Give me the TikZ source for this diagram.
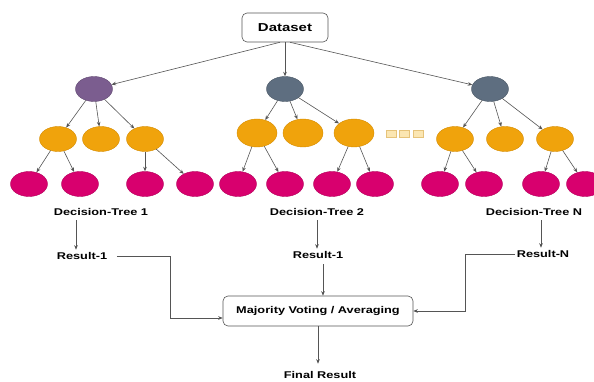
\documentclass[tikz,border=0pt]{standalone}
\usepackage{fontspec}
\usetikzlibrary{shapes.geometric,arrows.meta}
\newfontfamily\lblfont{Liberation Sans Bold}[FakeStretch=1.3]
\definecolor{rootpurple}{HTML}{7B5D8F}
\definecolor{rootslate}{HTML}{5E6E80}
\definecolor{midorange}{HTML}{F0A30C}
\definecolor{midorangeline}{HTML}{D68C00}
\definecolor{leafpink}{HTML}{D8006E}
\definecolor{leafpinkline}{HTML}{B5005C}
\definecolor{dotfill}{HTML}{FBE6B2}
\definecolor{dotline}{HTML}{E6C37A}
\definecolor{edgegray}{HTML}{555555}
\tikzset{
  oval/.style={ellipse, minimum width=37pt, minimum height=25pt, inner sep=0pt, line width=0.4pt},
  rootp/.style={oval, fill=rootpurple, draw=rootpurple!80!black},
  roots/.style={oval, fill=rootslate, draw=rootslate!80!black},
  mid/.style={oval, fill=midorange, draw=midorangeline},
  midbig/.style={mid, minimum width=40pt, minimum height=28pt},
  leaf/.style={oval, fill=leafpink, draw=leafpinkline},
  dotbox/.style={rectangle, minimum width=10pt, minimum height=7pt, inner sep=0pt, fill=dotfill, draw=dotline, line width=0.4pt},
  lbl/.style={inner sep=1.5pt, font=\lblfont\fontsize{9.8}{11}\selectfont},
  rbox/.style={rectangle, rounded corners=5pt, draw=edgegray, line width=0.6pt, fill=white, inner sep=0pt},
  arr/.style={draw=edgegray, line width=0.6pt, -{Stealth[length=4.5pt,width=3.6pt]}},
}
\begin{document}
\begin{tikzpicture}[x=1pt, y=-1pt]
\clip (0,0) rectangle (594,382);
\fill[white] (0,0) rectangle (594,382);

% top box
\node[rbox, minimum width=86pt, minimum height=29pt, lbl, font=\lblfont\fontsize{11.5}{13}\selectfont] (ds) at (285,27.5) {Dataset};

% tree roots
\node[rootp] (r1) at (94,89) {};
\node[roots] (r2) at (285,89) {};
\node[roots] (rN) at (490,89) {};

% second level
\node[mid] (a1) at (58,139) {};
\node[mid] (a2) at (101,139) {};
\node[mid] (a3) at (145,139) {};
\node[midbig] (b1) at (257,133) {};
\node[midbig] (b2) at (303,133) {};
\node[midbig] (b3) at (354,133) {};
\node[mid] (c1) at (455,139) {};
\node[mid] (c2) at (505,139) {};
\node[mid] (c3) at (555,139) {};

% ellipsis squares
\node[dotbox] (d1) at (391,133.5) {};
\node[dotbox] (d2) at (404.5,133.5) {};
\node[dotbox] (d3) at (418,133.5) {};

% leaves
\node[leaf] (a11) at (29,184) {};
\node[leaf] (a12) at (80,184) {};
\node[leaf] (a31) at (145,184) {};
\node[leaf] (a32) at (195,184) {};
\node[leaf] (b11) at (238,184) {};
\node[leaf] (b12) at (285,184) {};
\node[leaf] (b31) at (332,184) {};
\node[leaf] (b32) at (375,184) {};
\node[leaf] (c11) at (440,184) {};
\node[leaf] (c12) at (484,184) {};
\node[leaf] (c31) at (541,184) {};
\node[leaf] (c32) at (585,184) {};

% labels
\node[lbl] (dt1) at (101,212) {Decision-Tree 1};
\node[lbl] (dt2) at (317,212) {Decision-Tree 2};
\node[lbl] (dtN) at (534,212) {Decision-Tree N};
\node[lbl] (res1) at (82,256) {Result-1};
\node[lbl] (res2) at (318,255) {Result-1};
\node[lbl] (resN) at (543,254) {Result-N};
\node[rbox, minimum width=190pt, minimum height=30pt, lbl] (maj) at (318,311) {Majority Voting / Averaging};
\node[lbl] (fin) at (320,375) {Final Result};

% connector guides
\coordinate (k1) at (76,0);
\coordinate (k2) at (317,0);
\coordinate (k3) at (323,0);
\coordinate (kN) at (541,0);
\coordinate (j1) at (170,318);
\coordinate (jN) at (465,0);

% dataset to roots
\draw[arr] ([xshift=-5pt]ds.south) -- (r1);
\draw[arr] (ds.south) -- (r2.north);
\draw[arr] ([xshift=5pt]ds.south) -- (rN);

% tree edges
\foreach \p/\c in {r1/a1, r1/a2, r1/a3, a1/a11, a1/a12, a3/a31, a3/a32,
                   r2/b1, r2/b2, r2/b3, b1/b11, b1/b12, b3/b31, b3/b32,
                   rN/c1, rN/c2, rN/c3, c1/c11, c1/c12, c3/c31, c3/c32}
  \draw[arr] (\p) -- (\c);

% results
\draw[arr] ([yshift=-3pt]dt1.south -| k1) -- ([yshift=1pt]res1.north -| k1);
\draw[arr] ([yshift=-3pt]dt2.south -| k2) -- ([yshift=1pt]res2.north -| k2);
\draw[arr] ([yshift=-3pt]dtN.south -| kN) -- ([yshift=1pt]resN.north -| kN);

% results to aggregation
\draw[arr, shorten <=8pt] (res1.east) -| (j1) -- (j1 -| maj.west);
\draw[arr] ([yshift=-4pt]res2.south -| k3) -- (maj.north -| k3);
\draw[arr] (resN.west) -| (jN |- maj.east) -- (maj.east);
\draw[arr] (maj.south) -- ([yshift=6pt]maj.south |- fin.north);
\end{tikzpicture}
\end{document}
